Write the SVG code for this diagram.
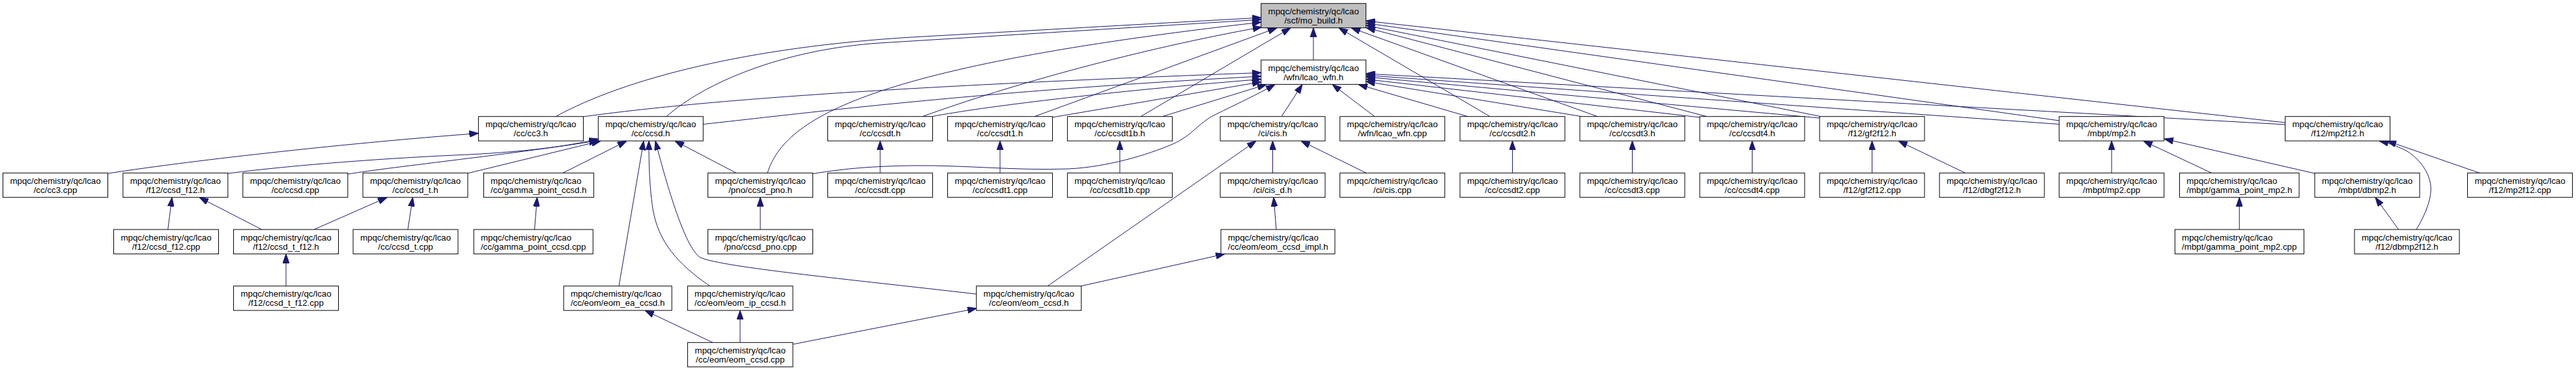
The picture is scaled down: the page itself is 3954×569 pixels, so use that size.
<svg xmlns="http://www.w3.org/2000/svg" width="3954" height="569" viewBox="0 0 3954 569">
<style>
.node rect{fill:#fff;stroke:#000;stroke-width:1}
.root rect{fill:#bfbfbf}
text{font-family:"Liberation Sans",Arial,Helvetica,sans-serif;font-size:13.33px;fill:#000}
.c{text-anchor:middle}
.l{text-anchor:start}
#edges path{fill:none;stroke:#191970;stroke-width:1;marker-end:url(#arr)}
</style>
<defs>
<marker id="arr" markerUnits="userSpaceOnUse" markerWidth="14" markerHeight="10" refX="13.3" refY="4.67" orient="auto" viewBox="0 0 13.3 9.34">
<path d="M0,0 L13.3,4.67 L0,9.34 Z" fill="#191970" stroke="#191970" stroke-width="1"/>
</marker>
</defs>
<rect width="3954" height="569" fill="#fff"/>
<g id="edges">
<!-- into mo_build.h -->
<path d="M853,178.7 C960,120 1150,72 1400,57 L1936,27"/>
<path d="M1023,178.7 C1080,128 1200,76 1350,66 L1936,30"/>
<path d="M1178,265.3 C1205,180 1335,102 1936,34"/>
<path d="M1416,178.7 C1550,130 1750,75 1937,41.5"/>
<path d="M1588,178.7 L1960,42.8"/>
<path d="M1751,178.7 L1981,42.8"/>
<path d="M2016,92 L2016,42.8"/>
<path d="M2287,178.7 L2055,42.8"/>
<path d="M2452,178.7 L2074,42.8"/>
<path d="M2620,178.7 L2097,42.5"/>
<path d="M2795,178.7 L2096.5,39"/>
<path d="M3160.7,185 L2096.5,35.5"/>
<path d="M3507.6,188 L2096.5,32"/>
<!-- into lcao_wfn.h -->
<path d="M895,179 C1050,158 1300,135 1936,111.5"/>
<path d="M1079,190.6 C1250,172 1500,140 1936,117"/>
<path d="M1431,178.7 C1500,165 1700,140 1936,121.5"/>
<path d="M1615,180 L1936,125.5"/>
<path d="M1784,178.7 L1944,129.5"/>
<path d="M1247,266.5 C1300,258 1340,255 1400,254 C1480,253 1560,262 1640,259 C1700,256 1760,238 1800,221 C1830,208 1840,188 1865,176 C1895,161 1930,145 1957,129.5"/>
<path d="M1967,178.7 L1999,129.5"/>
<path d="M2110,178.7 L2045,129.5"/>
<path d="M2253,178.7 L2085,129.5"/>
<path d="M2428,178.7 L2096.5,125"/>
<path d="M2609,180 L2096.5,121.5"/>
<path d="M2793,181 L2096.5,118"/>
<path d="M3160.7,190.5 L2096.5,115.5"/>
<path d="M3507.6,191 L2096.5,113"/>
<!-- lower levels -->
<path d="M166,266 C300,245 550,218 734.4,204.5"/>
<path d="M350,266 C450,253 600,242 720,237 C800,233 870,225 918.3,213"/>
<path d="M534,267 C600,256 800,235 918.3,215.5"/>
<path d="M717,266 L922,216.2"/>
<path d="M864,265.3 L962,216.2"/>
<path d="M950,438.7 L988,216.2"/>
<path d="M1089.7,438.7 C1040,405 1010,370 1002,320 C996,280 996,240 996,216.2"/>
<path d="M1498.7,451 C1300,428 1110,410 1075,395 C1050,380 1020,270 1006,216.2"/>
<path d="M1130,265.3 L1036,216.2"/>
<path d="M1167,352 L1167,302.8"/>
<path d="M820.5,352 L824.5,302.8"/>
<path d="M1094,525.3 L990,476.2"/>
<path d="M1136,525.3 L1136,476.2"/>
<path d="M1217,528 L1499,473"/>
<path d="M1608,438.7 L1928,216.2"/>
<path d="M1659.4,438.7 L1880,389.5"/>
<path d="M1959,352 L1955,302.8"/>
<path d="M1953.5,265.3 L1953.5,216.2"/>
<path d="M2097,265.3 L1997,216.2"/>
<path d="M1351,265.3 L1351,216.2"/>
<path d="M1535,265.3 L1535,216.2"/>
<path d="M1718.9,265.3 L1718.9,216.2"/>
<path d="M2321.5,265.3 L2321.5,216.2"/>
<path d="M2505.5,265.3 L2505.5,216.2"/>
<path d="M2689.5,265.3 L2689.5,216.2"/>
<path d="M2873.5,265.3 L2873.5,216.2"/>
<path d="M3016.5,265.3 L2914,216.2"/>
<path d="M3241.2,265.3 L3241.2,216.2"/>
<path d="M3394.6,265.3 L3290,216.2"/>
<path d="M3553,266 L3322,213"/>
<path d="M3437.3,352 L3437.3,302.8"/>
<path d="M3681.7,352 L3646,302.8"/>
<path d="M3709,352 C3722,330 3733,305 3731,285 C3729,265 3715,245 3695,232 C3680,224 3665,219 3652,216.2"/>
<path d="M3806,265.3 L3664,216.2"/>
<path d="M257.7,352 L264,302.8"/>
<path d="M401.8,352 L306,302.8"/>
<path d="M482,352 L594,302.8"/>
<path d="M626,352 L633.5,302.8"/>
<path d="M439,438.7 L439,389.5"/>
</g>
<g id="n_mo_build" class="node root"><rect x="1935.7" y="5.3" width="161" height="37.4"/><text class="c" x="2016.2" y="21.8">mpqc/chemistry/qc/lcao</text><text class="c" x="2016.2" y="35.8">/scf/mo_build.h</text></g>
<g id="n_lcao_wfn_h" class="node"><rect x="1935.7" y="92" width="161" height="37.4"/><text class="c" x="2016.2" y="108.5">mpqc/chemistry/qc/lcao</text><text class="c" x="2016.2" y="122.5">/wfn/lcao_wfn.h</text></g>
<g id="n_cc3_h" class="node"><rect x="734.4" y="178.7" width="161" height="37.4"/><text class="c" x="814.9" y="195.2">mpqc/chemistry/qc/lcao</text><text class="c" x="814.9" y="209.2">/cc/cc3.h</text></g>
<g id="n_ccsd_h" class="node"><rect x="918.3" y="178.7" width="161" height="37.4"/><text class="c" x="998.8" y="195.2">mpqc/chemistry/qc/lcao</text><text class="c" x="998.8" y="209.2">/cc/ccsd.h</text></g>
<g id="n_ccsdt_h" class="node"><rect x="1270.5" y="178.7" width="161" height="37.4"/><text class="c" x="1351" y="195.2">mpqc/chemistry/qc/lcao</text><text class="c" x="1351" y="209.2">/cc/ccsdt.h</text></g>
<g id="n_ccsdt1_h" class="node"><rect x="1454.5" y="178.7" width="161" height="37.4"/><text class="c" x="1535" y="195.2">mpqc/chemistry/qc/lcao</text><text class="c" x="1535" y="209.2">/cc/ccsdt1.h</text></g>
<g id="n_ccsdt1b_h" class="node"><rect x="1638.4" y="178.7" width="161" height="37.4"/><text class="c" x="1718.9" y="195.2">mpqc/chemistry/qc/lcao</text><text class="c" x="1718.9" y="209.2">/cc/ccsdt1b.h</text></g>
<g id="n_cis_h" class="node"><rect x="1873" y="178.7" width="161" height="37.4"/><text class="c" x="1953.5" y="195.2">mpqc/chemistry/qc/lcao</text><text class="c" x="1953.5" y="209.2">/ci/cis.h</text></g>
<g id="n_lcao_wfn_cpp" class="node"><rect x="2056.7" y="178.7" width="161" height="37.4"/><text class="c" x="2137.2" y="195.2">mpqc/chemistry/qc/lcao</text><text class="c" x="2137.2" y="209.2">/wfn/lcao_wfn.cpp</text></g>
<g id="n_ccsdt2_h" class="node"><rect x="2241" y="178.7" width="161" height="37.4"/><text class="c" x="2321.5" y="195.2">mpqc/chemistry/qc/lcao</text><text class="c" x="2321.5" y="209.2">/cc/ccsdt2.h</text></g>
<g id="n_ccsdt3_h" class="node"><rect x="2425" y="178.7" width="161" height="37.4"/><text class="c" x="2505.5" y="195.2">mpqc/chemistry/qc/lcao</text><text class="c" x="2505.5" y="209.2">/cc/ccsdt3.h</text></g>
<g id="n_ccsdt4_h" class="node"><rect x="2609" y="178.7" width="161" height="37.4"/><text class="c" x="2689.5" y="195.2">mpqc/chemistry/qc/lcao</text><text class="c" x="2689.5" y="209.2">/cc/ccsdt4.h</text></g>
<g id="n_gf2f12_h" class="node"><rect x="2793" y="178.7" width="161" height="37.4"/><text class="c" x="2873.5" y="195.2">mpqc/chemistry/qc/lcao</text><text class="c" x="2873.5" y="209.2">/f12/gf2f12.h</text></g>
<g id="n_mp2_h" class="node"><rect x="3160.7" y="178.7" width="161" height="37.4"/><text class="c" x="3241.2" y="195.2">mpqc/chemistry/qc/lcao</text><text class="c" x="3241.2" y="209.2">/mbpt/mp2.h</text></g>
<g id="n_mp2f12_h" class="node"><rect x="3507.6" y="178.7" width="161" height="37.4"/><text class="c" x="3588.1" y="195.2">mpqc/chemistry/qc/lcao</text><text class="c" x="3588.1" y="209.2">/f12/mp2f12.h</text></g>
<g id="n_cc3_cpp" class="node"><rect x="4.5" y="265.3" width="161" height="37.4"/><text class="c" x="85" y="281.8">mpqc/chemistry/qc/lcao</text><text class="c" x="85" y="295.8">/cc/cc3.cpp</text></g>
<g id="n_ccsd_f12_h" class="node"><rect x="188.8" y="265.3" width="161" height="37.4"/><text class="c" x="269.3" y="281.8">mpqc/chemistry/qc/lcao</text><text class="c" x="269.3" y="295.8">/f12/ccsd_f12.h</text></g>
<g id="n_ccsd_cpp" class="node"><rect x="372.8" y="265.3" width="161" height="37.4"/><text class="c" x="453.3" y="281.8">mpqc/chemistry/qc/lcao</text><text class="c" x="453.3" y="295.8">/cc/ccsd.cpp</text></g>
<g id="n_ccsd_t_h" class="node"><rect x="557" y="265.3" width="161" height="37.4"/><text class="c" x="637.5" y="281.8">mpqc/chemistry/qc/lcao</text><text class="c" x="637.5" y="295.8">/cc/ccsd_t.h</text></g>
<g id="n_gamma_point_ccsd_h" class="node"><rect x="742.4" y="265.3" width="169" height="37.4"/><text class="l" x="753.1" y="281.8">mpqc/chemistry/qc/lcao</text><text class="l" x="753.1" y="295.8">/cc/gamma_point_ccsd.h</text></g>
<g id="n_ccsd_pno_h" class="node"><rect x="1086.6" y="265.3" width="161" height="37.4"/><text class="c" x="1167.1" y="281.8">mpqc/chemistry/qc/lcao</text><text class="c" x="1167.1" y="295.8">/pno/ccsd_pno.h</text></g>
<g id="n_ccsdt_cpp" class="node"><rect x="1270.5" y="265.3" width="161" height="37.4"/><text class="c" x="1351" y="281.8">mpqc/chemistry/qc/lcao</text><text class="c" x="1351" y="295.8">/cc/ccsdt.cpp</text></g>
<g id="n_ccsdt1_cpp" class="node"><rect x="1454.5" y="265.3" width="161" height="37.4"/><text class="c" x="1535" y="281.8">mpqc/chemistry/qc/lcao</text><text class="c" x="1535" y="295.8">/cc/ccsdt1.cpp</text></g>
<g id="n_ccsdt1b_cpp" class="node"><rect x="1638.4" y="265.3" width="161" height="37.4"/><text class="c" x="1718.9" y="281.8">mpqc/chemistry/qc/lcao</text><text class="c" x="1718.9" y="295.8">/cc/ccsdt1b.cpp</text></g>
<g id="n_cis_d_h" class="node"><rect x="1873" y="265.3" width="161" height="37.4"/><text class="c" x="1953.5" y="281.8">mpqc/chemistry/qc/lcao</text><text class="c" x="1953.5" y="295.8">/ci/cis_d.h</text></g>
<g id="n_cis_cpp" class="node"><rect x="2056.7" y="265.3" width="161" height="37.4"/><text class="c" x="2137.2" y="281.8">mpqc/chemistry/qc/lcao</text><text class="c" x="2137.2" y="295.8">/ci/cis.cpp</text></g>
<g id="n_ccsdt2_cpp" class="node"><rect x="2241" y="265.3" width="161" height="37.4"/><text class="c" x="2321.5" y="281.8">mpqc/chemistry/qc/lcao</text><text class="c" x="2321.5" y="295.8">/cc/ccsdt2.cpp</text></g>
<g id="n_ccsdt3_cpp" class="node"><rect x="2425" y="265.3" width="161" height="37.4"/><text class="c" x="2505.5" y="281.8">mpqc/chemistry/qc/lcao</text><text class="c" x="2505.5" y="295.8">/cc/ccsdt3.cpp</text></g>
<g id="n_ccsdt4_cpp" class="node"><rect x="2609" y="265.3" width="161" height="37.4"/><text class="c" x="2689.5" y="281.8">mpqc/chemistry/qc/lcao</text><text class="c" x="2689.5" y="295.8">/cc/ccsdt4.cpp</text></g>
<g id="n_gf2f12_cpp" class="node"><rect x="2793" y="265.3" width="161" height="37.4"/><text class="c" x="2873.5" y="281.8">mpqc/chemistry/qc/lcao</text><text class="c" x="2873.5" y="295.8">/f12/gf2f12.cpp</text></g>
<g id="n_dbgf2f12_h" class="node"><rect x="2977" y="265.3" width="161" height="37.4"/><text class="c" x="3057.5" y="281.8">mpqc/chemistry/qc/lcao</text><text class="c" x="3057.5" y="295.8">/f12/dbgf2f12.h</text></g>
<g id="n_mp2_cpp" class="node"><rect x="3160.7" y="265.3" width="161" height="37.4"/><text class="c" x="3241.2" y="281.8">mpqc/chemistry/qc/lcao</text><text class="c" x="3241.2" y="295.8">/mbpt/mp2.cpp</text></g>
<g id="n_gamma_point_mp2_h" class="node"><rect x="3345.5" y="265.3" width="183.5" height="37.4"/><text class="l" x="3356.2" y="281.8">mpqc/chemistry/qc/lcao</text><text class="l" x="3356.2" y="295.8">/mbpt/gamma_point_mp2.h</text></g>
<g id="n_dbmp2_h" class="node"><rect x="3553" y="265.3" width="161" height="37.4"/><text class="c" x="3633.5" y="281.8">mpqc/chemistry/qc/lcao</text><text class="c" x="3633.5" y="295.8">/mbpt/dbmp2.h</text></g>
<g id="n_mp2f12_cpp" class="node"><rect x="3787.5" y="265.3" width="161" height="37.4"/><text class="c" x="3868" y="281.8">mpqc/chemistry/qc/lcao</text><text class="c" x="3868" y="295.8">/f12/mp2f12.cpp</text></g>
<g id="n_ccsd_f12_cpp" class="node"><rect x="174.5" y="352" width="161" height="37.4"/><text class="c" x="255" y="368.5">mpqc/chemistry/qc/lcao</text><text class="c" x="255" y="382.5">/f12/ccsd_f12.cpp</text></g>
<g id="n_ccsd_t_f12_h" class="node"><rect x="358.5" y="352" width="161" height="37.4"/><text class="c" x="439" y="368.5">mpqc/chemistry/qc/lcao</text><text class="c" x="439" y="382.5">/f12/ccsd_t_f12.h</text></g>
<g id="n_ccsd_t_cpp" class="node"><rect x="542" y="352" width="161" height="37.4"/><text class="c" x="622.5" y="368.5">mpqc/chemistry/qc/lcao</text><text class="c" x="622.5" y="382.5">/cc/ccsd_t.cpp</text></g>
<g id="n_gamma_point_ccsd_cpp" class="node"><rect x="727.2" y="352" width="183" height="37.4"/><text class="l" x="737.9" y="368.5">mpqc/chemistry/qc/lcao</text><text class="l" x="737.9" y="382.5">/cc/gamma_point_ccsd.cpp</text></g>
<g id="n_ccsd_pno_cpp" class="node"><rect x="1086.6" y="352" width="161" height="37.4"/><text class="c" x="1167.1" y="368.5">mpqc/chemistry/qc/lcao</text><text class="c" x="1167.1" y="382.5">/pno/ccsd_pno.cpp</text></g>
<g id="n_eom_ccsd_impl_h" class="node"><rect x="1874" y="352" width="175" height="37.4"/><text class="l" x="1884.7" y="368.5">mpqc/chemistry/qc/lcao</text><text class="l" x="1884.7" y="382.5">/cc/eom/eom_ccsd_impl.h</text></g>
<g id="n_gamma_point_mp2_cpp" class="node"><rect x="3338.4" y="352" width="198" height="37.4"/><text class="l" x="3349.1" y="368.5">mpqc/chemistry/qc/lcao</text><text class="l" x="3349.1" y="382.5">/mbpt/gamma_point_mp2.cpp</text></g>
<g id="n_dbmp2f12_h" class="node"><rect x="3614" y="352" width="161" height="37.4"/><text class="c" x="3694.5" y="368.5">mpqc/chemistry/qc/lcao</text><text class="c" x="3694.5" y="382.5">/f12/dbmp2f12.h</text></g>
<g id="n_ccsd_t_f12_cpp" class="node"><rect x="358.5" y="438.7" width="161" height="37.4"/><text class="c" x="439" y="455.2">mpqc/chemistry/qc/lcao</text><text class="c" x="439" y="469.2">/f12/ccsd_t_f12.cpp</text></g>
<g id="n_eom_ea_ccsd_h" class="node"><rect x="865.2" y="438.7" width="166" height="37.4"/><text class="l" x="875.9" y="455.2">mpqc/chemistry/qc/lcao</text><text class="l" x="875.9" y="469.2">/cc/eom/eom_ea_ccsd.h</text></g>
<g id="n_eom_ip_ccsd_h" class="node"><rect x="1055.4" y="438.7" width="161.6" height="37.4"/><text class="l" x="1066.1" y="455.2">mpqc/chemistry/qc/lcao</text><text class="l" x="1066.1" y="469.2">/cc/eom/eom_ip_ccsd.h</text></g>
<g id="n_eom_ccsd_h" class="node"><rect x="1498.7" y="438.7" width="161" height="37.4"/><text class="c" x="1579.2" y="455.2">mpqc/chemistry/qc/lcao</text><text class="c" x="1579.2" y="469.2">/cc/eom/eom_ccsd.h</text></g>
<g id="n_eom_ccsd_cpp" class="node"><rect x="1055.4" y="525.3" width="161.6" height="37.4"/><text class="c" x="1136.2" y="541.8">mpqc/chemistry/qc/lcao</text><text class="c" x="1136.2" y="555.8">/cc/eom/eom_ccsd.cpp</text></g>
</svg>
